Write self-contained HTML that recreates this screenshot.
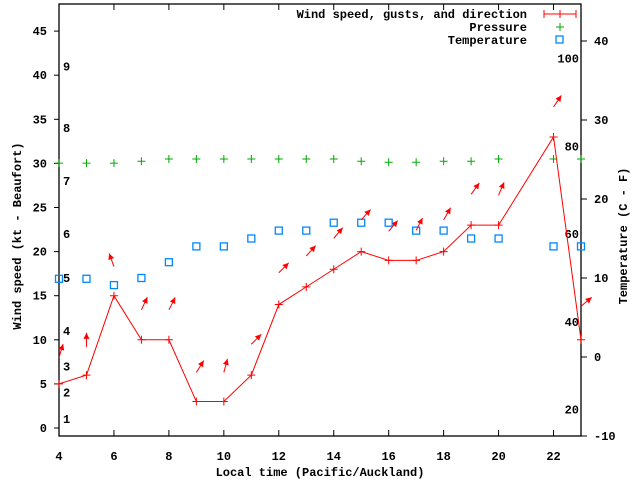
<!DOCTYPE html>
<html><head><meta charset="utf-8"><style>
body{margin:0;background:#fff;}
svg{display:block;font-family:"Liberation Mono",monospace;font-weight:bold;font-size:12px;}
</style></head><body>
<svg id="chart" width="640" height="480" viewBox="0 0 640 480" xmlns="http://www.w3.org/2000/svg">
<g id="axes"></g>
<g id="marks"></g>
<text transform="translate(21,236) rotate(-90)" text-anchor="middle">Wind speed (kt - Beaufort)</text>
<text transform="translate(627,236) rotate(-90)" text-anchor="middle">Temperature (C - F)</text>
<text x="320" y="476" text-anchor="middle">Local time (Pacific/Auckland)</text>
<g>
<text x="527" y="18" text-anchor="end">Wind speed, gusts, and direction</text>
<text x="527" y="31" text-anchor="end">Pressure</text>
<text x="527" y="44" text-anchor="end">Temperature</text>
<g stroke="#f00" stroke-width="1"><line x1="544" y1="14" x2="576" y2="14"/><line x1="544" y1="10" x2="544" y2="18"/><line x1="576" y1="10" x2="576" y2="18"/><line x1="560" y1="10" x2="560" y2="18"/></g>
<g stroke="#0a0"><line x1="556" y1="27" x2="564" y2="27"/><line x1="560" y1="23" x2="560" y2="31"/></g>
<rect x="556" y="36" width="7" height="7" fill="none" stroke="#08f" stroke-width="1.3"/>
</g>
</svg>
<script>
const hours=[4,5,6,7,8,9,10,11,12,13,14,15,16,17,18,19,20,22,23];
const windSpeed=[5,6,15,10,10,3,3,6,14,16,18,20,19,19,20,23,23,33,10];
const windGust=[8,9.2,18.3,13.4,13.4,6.3,6.3,9.5,17.6,19.5,21.5,23.6,22.3,22.4,23.6,26.5,26.4,36.4,13.8];
const windDir=[17,0,-20,25,27,32,15,45,45,42,40,42,40,27,30,36,23,34,50];
const pressure=[1014.1,1014.1,1014.1,1015,1016,1016,1016,1016,1016,1016,1016,1015,1014.5,1014.5,1015,1015,1016,1016,1016];
const temperature=[9.9,9.9,9.1,10,12,14,14,15,16,16,17,17,17,16,16,15,15,14,14];
const xTicks=[4,6,8,10,12,14,16,18,20,22];
const yTicks=[0,5,10,15,20,25,30,35,40,45];
const y2Ticks=[-10,0,10,20,30,40];
const fTicks=[20,40,60,80,100];
const beaufort=[1,4,7,11,17,22,28,34,41];

const L=59,R=581,T=4,B=436;
const X=h=>L+(h-4)*(R-L)/19;
const Y=w=>428-w*8.82;
const Y2=t=>B-(t+10)*7.9;
const YP=p=>159-(p-1016)*2.2;
const NS="http://www.w3.org/2000/svg";
function mk(p,tag,at){const e=document.createElementNS(NS,tag);for(const k in at)e.setAttribute(k,at[k]);p.appendChild(e);return e;}
const ax=document.getElementById('axes'),mg=document.getElementById('marks');
const frame=mk(ax,'rect',{x:L,y:T,width:R-L,height:B-T,fill:'none',stroke:'#000','stroke-width':1.3});


xTicks.forEach(h=>{
 const x=X(h);
 mk(ax,'line',{x1:x,y1:B,x2:x,y2:B-6,stroke:'#000'});
 mk(ax,'line',{x1:x,y1:T,x2:x,y2:T+6,stroke:'#000'});
 const t=mk(ax,'text',{x:x,y:460,'text-anchor':'middle'});t.textContent=h;
 
 
});
yTicks.forEach(w=>{
 const y=Y(w);
 mk(ax,'line',{x1:L-5,y1:y,x2:L,y2:y,stroke:'#000'});
 const t=mk(ax,'text',{x:47,y:y+4,'text-anchor':'end'});t.textContent=w;
 
 
});
y2Ticks.forEach(c=>{
 const y=Y2(c);
 mk(ax,'line',{x1:R,y1:y,x2:R+6,y2:y,stroke:'#000'});
 const t=mk(ax,'text',{x:594,y:y+4,'text-anchor':'start'});t.textContent=c;
 
 
});
fTicks.forEach(f=>{
 const y=Y2((f-32)*5/9);
 const t=mk(ax,'text',{x:579,y:y+4,'text-anchor':'end'});t.textContent=f;
 
 
});
beaufort.forEach((w,i)=>{
 const t=mk(ax,'text',{x:63,y:Y(w)+4});t.textContent=i+1;
 
 
});
// wind line
const pl=mk(mg,'polyline',{points:hours.map((h,i)=>X(h)+','+Y(windSpeed[i])).join(' '),fill:'none',stroke:'#f00','stroke-width':1});


hours.forEach((h,i)=>{
 const x=X(h),y=Y(windSpeed[i]);
 const g=mk(mg,'path',{d:`M${x-4},${y}H${x+4}M${x},${y-4}V${y+4}`,stroke:'#f00'});
 
 
 // pressure
 const px=X(h),py=YP(pressure[i]);
 const p=mk(mg,'path',{d:`M${px-4},${py}H${px+4}M${px},${py-4}V${py+4}`,stroke:'#0a0'});
 
 
 // temperature
 const ty=Y2(temperature[i]);
 const s=mk(mg,'rect',{x:px-3.5,y:ty-3.5,width:7,height:7,fill:'none',stroke:'#08f','stroke-width':1.3});
 
 
 // direction arrow
 const a=windDir[i]*Math.PI/180,len=14;
 const gy=Y(windGust[i]);
 const hx=x+Math.sin(a)*len,hy=gy-Math.cos(a)*len;
 const ar=mk(mg,'g',{});
 
 
 mk(ar,'line',{x1:x,y1:gy,x2:hx,y2:hy,stroke:'#f00'});
 const bx=-Math.sin(a),by=Math.cos(a),nx=Math.cos(a),ny=Math.sin(a);
 mk(ar,'polygon',{points:`${hx},${hy} ${hx+bx*6+nx*3},${hy+by*6+ny*3} ${hx+bx*6-nx*3},${hy+by*6-ny*3}`,fill:'#f00'});
});
</script>
</body></html>
